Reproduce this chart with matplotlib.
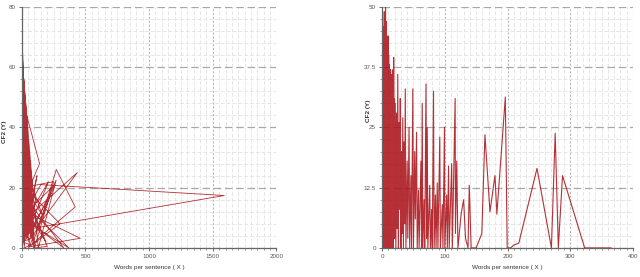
import numpy as np
import matplotlib.pyplot as plt
from matplotlib.ticker import MultipleLocator

# left panel: CF2 vs words per sentence, points in data order
left_x = [0, 1, 0, 3, 1, 5, 2, 8, 3, 10, 1, 14, 4, 18, 2, 22, 5, 26, 1, 30,
          6, 34, 2, 38, 8, 42, 3, 46, 10, 50, 4, 55, 12, 58, 2, 62, 14, 60, 5, 64,
          16, 66, 3, 70, 20, 0, 12, 1, 28, 6, 35, 2, 48, 9, 52, 4, 40, 1, 24, 7,
          2, 30, 0, 60, 1, 86, 3, 47, 0, 95, 2, 70, 1, 100, 4, 80, 0, 55, 2, 90,
          1, 40, 3, 75, 0, 85, 2, 65, 1, 92, 0, 20, 3, 50, 0, 78, 2, 35, 1, 88,
          0, 60, 4, 25, 1, 82, 0, 12, 2, 68, 1, 96, 3, 45, 0, 72, 2, 8, 1, 84,
          30, 3, 44, 0, 36, 2, 54, 8, 20, 1, 45, 5, 32, 0, 15, 56, 3, 26, 11, 48,
          40, 436, 140, 271, 420, 180, 63, 460, 30, 150, 1590, 90, 270, 130, 20,
          140, 10, 370, 140, 6, 250, 100, 200, 60, 330, 45, 120, 18, 230, 80, 300,
          25, 160, 5, 110, 35, 210, 70, 95, 12, 42, 2, 58, 7, 33, 0, 22, 4, 75,
          16, 190, 40, 260, 55, 85, 3, 36, 9, 27, 1, 14, 0]
left_y = [0, 76, 65, 60, 57, 55, 52, 50, 48, 45, 44, 42, 40, 38, 37, 35, 34, 32, 31, 30,
          29, 27, 26, 25, 24, 22, 21, 20, 19, 17, 16, 15, 14, 12, 11, 10, 9, 7, 6, 5,
          4, 3, 2, 1, 0, 34, 46, 27, 20, 58, 12, 42, 6, 36, 2, 28, 30, 18, 40, 10,
          70, 40, 55, 30, 48, 20, 62, 40, 35, 5, 44, 26, 25, 0, 52, 15, 40, 34, 18, 12,
          58, 42, 30, 22, 12, 3, 50, 28, 22, 8, 46, 48, 38, 36, 8, 18, 54, 44, 32, 16,
          3, 20, 42, 46, 28, 10, 60, 50, 36, 24, 15, 2, 47, 38, 26, 14, 66, 52, 20, 6,
          24, 50, 8, 62, 3, 33, 13, 39, 1, 47, 9, 23, 16, 54, 29, 5, 37, 11, 31, 18,
          10, 25, 8, 26, 13.6, 5, 0.4, 3.2, 12, 21, 17.4, 6.5, 22.5, 0, 47,
          28, 15, 0, 6, 20, 22, 0, 0.5, 15, 0, 9, 24, 2, 18, 1, 8,
          20, 11, 30, 16, 4, 22, 12, 0, 34, 7, 50, 14, 28, 6, 60, 9, 36, 3,
          19, 2, 12, 21, 0, 10, 44, 5, 26, 14, 54, 4, 0]

# right panel: same measures sorted by words per sentence
right_x = [0, 0.5, 1, 1.5, 2, 2.5, 3, 3.5, 4, 4.5, 5, 5.5, 6, 6.5, 7, 7.5, 8, 8.5, 9, 9.5,
           10, 10.5, 11, 11.5, 12, 12.5, 13, 13.5, 14, 14.5, 15, 15.5, 16, 16.5, 17, 17.5, 18, 18.5, 19, 19.5,
           20, 21, 22, 23, 24, 25, 26, 27, 28, 29, 30, 31, 32, 33, 34, 35, 36, 37, 38, 40,
           41, 43, 44, 46, 47, 49, 50, 52, 53, 55, 56, 58, 59, 62, 63, 64, 65, 67, 68, 70,
           71, 72, 73, 76, 77, 79, 80, 82, 83, 85, 86, 88, 89, 92, 93, 96, 97, 99.5, 100, 103,
           104, 106, 107, 111, 112, 116.5, 117, 119, 121, 126, 130, 133, 137, 139, 142, 150, 159, 164, 172, 180,
           183, 196.5, 199.5, 205, 210, 218, 247, 270, 276, 281, 287.7, 323, 365]
right_y = [0, 48, 0, 46, 2, 44, 0, 49, 3, 45, 0, 50, 2, 47, 0, 43, 5, 41, 0, 44,
           0, 40, 3, 38, 0, 35, 2, 37, 0, 33, 4, 36, 0, 34, 6, 37, 0, 39.5, 2, 31,
           2, 30, 0, 28, 4, 36, 0, 26, 8, 31, 0, 20, 3, 27, 0, 22, 5, 33, 0, 18,
           2, 25, 0, 15, 0, 33, 0, 20, 6, 24, 0, 12, 0, 18, 0, 30, 0, 10, 0, 34,
           2, 25, 0, 13, 0, 8, 0, 32.5, 0, 11, 0, 13.5, 0, 23, 0, 9, 0, 25, 0, 11,
           0, 17, 0, 17.5, 0, 31, 3, 18, 0, 7, 10, 2, 0, 13, 0, 0, 3, 23.5, 7.5, 15,
           7, 31.3, 0, 0, 0.6, 1, 16.5, 0, 23.8, 0, 15, 0, 0]

left_yticks = [0, 20, 40, 60, 80]
right_yticks = [0, 12.5, 25, 37.5, 50]
right_ylabels = ['0', '12.5', '25', '37.5', '50']

line_color = '#a80d14'
tick_color = '#555555'


def style_axes(ax, xmax, xmajor, xminor, yticks, ylabels, yminor):
    ax.set_xlim(0, xmax)
    ax.set_ylim(yticks[0], yticks[-1])
    ax.xaxis.set_major_locator(MultipleLocator(xmajor))
    ax.xaxis.set_minor_locator(MultipleLocator(xminor))
    ax.set_yticks(yticks, ylabels)
    ax.yaxis.set_minor_locator(MultipleLocator(yminor))
    ax.grid(which='minor', color='#e6e6e6', linestyle=(0, (4, 2)), linewidth=0.7)
    ax.grid(which='major', axis='y', color='#a8a8a8', linestyle=(0, (6, 3)), linewidth=0.9)
    ax.grid(which='major', axis='x', color='#b8b8b8', linestyle=(0, (2, 1.5)), linewidth=0.8)
    ax.set_axisbelow(True)
    for s in ['top', 'right']:
        ax.spines[s].set_visible(False)
    for s in ['left', 'bottom']:
        ax.spines[s].set_color('#666666')
        ax.spines[s].set_linewidth(0.9)
    ax.tick_params(which='major', labelsize=4.5, colors=tick_color, length=2, width=0.6, pad=2.5)
    ax.tick_params(which='minor', colors='#777777', length=1.2, width=0.5)
    ax.set_xlabel('Words per sentence ( X )', fontsize=4.6, color='#333333', labelpad=4)
    ax.set_ylabel('CF2 (Y)', fontsize=4.6, color='#333333', fontweight='bold')


plt.rcParams['font.family'] = ['Liberation Sans', 'DejaVu Sans']
fig = plt.figure(figsize=(6.4, 2.77), dpi=100)

ax1 = fig.add_axes([0.034, 0.105, 0.398, 0.870])
ax1.plot(left_x, left_y, color=line_color, linewidth=0.6, alpha=0.85)
style_axes(ax1, 2000, 500, 50, left_yticks, [str(v) for v in left_yticks], 4)
ax1.yaxis.set_label_coords(-0.058, 0.48)

ax2 = fig.add_axes([0.597, 0.105, 0.392, 0.870])
ax2.plot(right_x, right_y, color=line_color, linewidth=0.8, alpha=0.85)
style_axes(ax2, 400, 100, 10, right_yticks, right_ylabels, 2.5)
ax2.yaxis.set_label_coords(-0.045, 0.57)

fig.savefig('out.png', dpi=100)
